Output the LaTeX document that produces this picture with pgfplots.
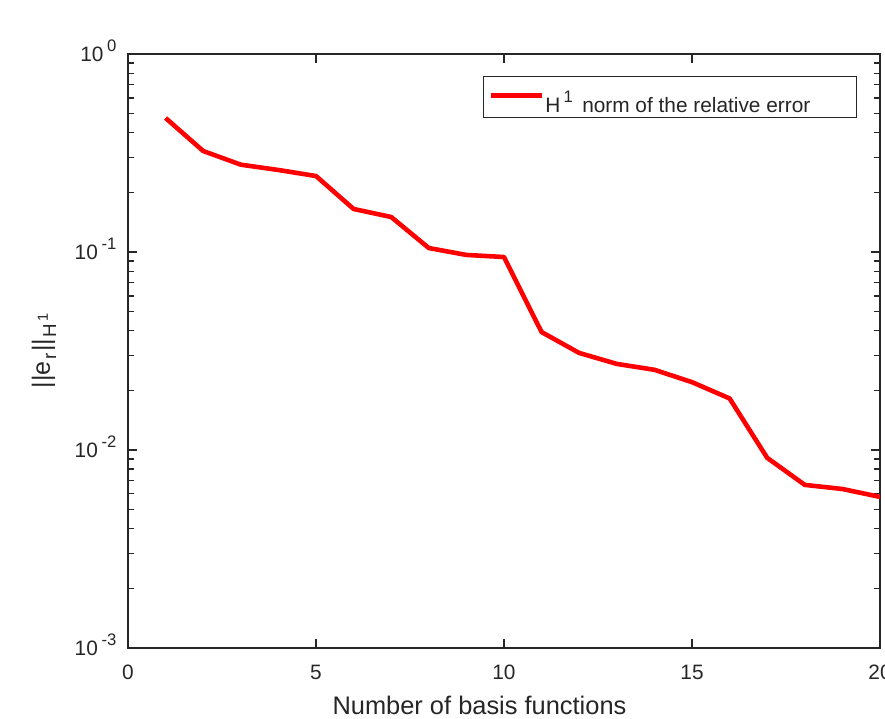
\documentclass[border=0pt]{standalone}
\usepackage{fontspec}
\setmainfont{Liberation Sans}
\usepackage{pgfplots}
\pgfplotsset{compat=1.18}
\definecolor{axgray}{gray}{0.15}
% 10 with a raised MATLAB-style exponent
\newcommand{\tenexp}[1]{10\hspace{1.8pt}\smash{\raisebox{4.5pt}{\fontsize{8}{8}\selectfont #1}}}

\begin{document}
\begin{tikzpicture}
\begin{axis}[
  name=ax,
  scale only axis, width=361pt, height=285.1pt,
  ymode=log,
  xmin=0, xmax=20, ymin=1e-3, ymax=1,
  xtick={0,5,10,15,20},
  ytick={1e-3,1e-2,1e-1,1},
  yticklabels={\tenexp{-3},\tenexp{-2},\tenexp{-1},\tenexp{0}},
  /pgf/number format/assume math mode=true,
  tick align=inside, tick pos=both,
  major tick length=4.3pt, minor tick length=2.9pt,
  axis line style={axgray, line width=0.6pt},
  tick style={axgray, line width=0.6pt},
  tick label style={font=\fontsize{10}{12}\selectfont, text=axgray},
  xticklabel style={yshift=-4.7pt},
  yticklabel style={xshift=-2pt},
  xlabel={Number of basis functions},
  xlabel style={at={(axis description cs:0.4674,0)}, anchor=base, yshift=-32.2pt,
    font=\fontsize{12.2}{14}\selectfont, text=axgray},
  ylabel={||e\hspace{0.8pt}\raisebox{-3pt}{\fontsize{9}{10}\selectfont r}\hspace{0.8pt}||\hspace{0.8pt}\raisebox{-3pt}{\fontsize{9}{10}\selectfont H\hspace{1pt}\raisebox{4pt}{\fontsize{7}{8}\selectfont 1}}},
  ylabel style={at={(axis description cs:-0.1117,0.5)}, anchor=center,
    font=\fontsize{12}{14}\selectfont, text=axgray},
  legend style={at={(0.9694,0.963)}, anchor=north east, draw=axgray, line width=0.5pt,
    inner xsep=2.4pt, inner ysep=1pt, font=\fontsize{10}{12}\selectfont, text=axgray,
    nodes={inner sep=0pt}, column sep=0.6pt},
  legend image code/.code={\draw[#1, line width=2.2pt] (0pt,0.75pt) -- (24.5pt,0.75pt);},
]
\addplot[red, line width=2.2pt, line join=round] coordinates {
  (1,0.475) (2,0.3236) (3,0.276) (4,0.2595) (5,0.2419)
  (6,0.1649) (7,0.1502) (8,0.1047) (9,0.0966) (10,0.0943)
  (11,0.0394) (12,0.0309) (13,0.0272) (14,0.0254) (15,0.0220)
  (16,0.0182) (17,0.00912) (18,0.00666) (19,0.00635) (20,0.00579)
};
\addlegendentry{\makebox[146.9pt][l]{\rule[-5.4pt]{0pt}{21.7pt}H\hspace{1.5pt}\raisebox{4.8pt}{\fontsize{8}{8}\selectfont 1}\hspace{4.5pt}norm of the relative error}}
\end{axis}
\pgfresetboundingbox
\path[use as bounding box] ([xshift=-61.44pt,yshift=-34.08pt]ax.south west)
  rectangle ([xshift=2.4pt,yshift=25.92pt]ax.north east);
\end{tikzpicture}
\end{document}
